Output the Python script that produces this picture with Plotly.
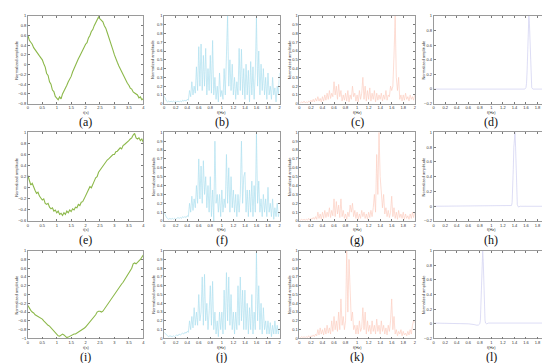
import plotly.graph_objects as go

# ---------------- data ----------------
t = [round(0.05 * i, 2) for i in range(81)]          # time grid (s)
f = [round(0.02 * i, 2) for i in range(101)]         # frequency grid (Hz)

sig_a = [0.6, 0.5, 0.46, 0.42, 0.35, 0.3, 0.28, 0.22, 0.18, 0.14,
         0.1, 0.02, -0.05, -0.18, -0.22, -0.35, -0.4, -0.52, -0.55, -0.65,
         -0.68, -0.72, -0.66, -0.7, -0.6, -0.55, -0.48, -0.42, -0.35, -0.3,
         -0.24, -0.15, -0.08, -0.02, 0.08, 0.12, 0.18, 0.25, 0.3, 0.36,
         0.42, 0.45, 0.55, 0.6, 0.68, 0.72, 0.8, 0.86, 0.92, 0.98,
         0.94, 0.9, 0.88, 0.8, 0.75, 0.66, 0.58, 0.48, 0.4, 0.3,
         0.2, 0.14, 0.05, -0.02, -0.08, -0.15, -0.2, -0.28, -0.32, -0.38,
         -0.42, -0.48, -0.5, -0.56, -0.58, -0.6, -0.62, -0.68, -0.66, -0.72,
         -0.7]
sig_e = [0.22, 0.15, 0.05, 0.08, 0.0, -0.05, -0.1, -0.08, -0.15, -0.18,
         -0.22, -0.2, -0.28, -0.3, -0.28, -0.35, -0.38, -0.36, -0.42, -0.4,
         -0.45, -0.42, -0.48, -0.46, -0.5, -0.45, -0.48, -0.42, -0.45, -0.4,
         -0.43, -0.38, -0.4, -0.35, -0.36, -0.3, -0.32, -0.26, -0.25, -0.2,
         -0.15, -0.1, -0.05, 0.02, 0.0, 0.08, 0.12, 0.18, 0.2, 0.28,
         0.32, 0.36, 0.4, 0.42, 0.46, 0.5, 0.52, 0.55, 0.58, 0.6,
         0.6, 0.65, 0.66, 0.7, 0.72, 0.7, 0.76, 0.78, 0.8, 0.82,
         0.85, 0.88, 0.9, 0.95, 0.98, 0.9, 0.88, 0.9, 0.85, 0.88,
         0.82]
sig_i = [-0.25, -0.32, -0.36, -0.4, -0.42, -0.46, -0.48, -0.5, -0.52, -0.54,
         -0.56, -0.6, -0.64, -0.66, -0.7, -0.72, -0.76, -0.8, -0.82, -0.86,
         -0.9, -0.94, -0.95, -0.92, -0.9, -0.92, -0.96, -0.98, -0.97, -0.95,
         -0.94, -0.92, -0.9, -0.9, -0.88, -0.86, -0.84, -0.82, -0.8, -0.77,
         -0.74, -0.7, -0.67, -0.64, -0.6, -0.56, -0.52, -0.46, -0.4, -0.38,
         -0.38, -0.4, -0.38, -0.33, -0.28, -0.24, -0.2, -0.15, -0.1, -0.05,
         0.0, 0.05, 0.1, 0.14, 0.19, 0.24, 0.28, 0.33, 0.38, 0.44,
         0.48, 0.54, 0.6, 0.7, 0.72, 0.7, 0.73, 0.76, 0.8, 0.85,
         0.9]

spec_b = [0.09, 0.05, 0.03, 0.02, 0.03, 0.02, 0.03, 0.02, 0.03, 0.02,
          0.03, 0.02, 0.03, 0.02, 0.03, 0.02, 0.04, 0.03, 0.04, 0.03,
          0.05, 0.04, 0.15, 0.08, 0.25, 0.1, 0.2, 0.12, 0.42, 0.15,
          0.65, 0.2, 0.68, 0.15, 0.55, 0.2, 0.63, 0.1, 0.4, 0.15,
          0.55, 0.12, 0.72, 0.1, 0.3, 0.05, 0.2, 0.02, 0.35, 0.08,
          0.15, 0.05, 0.4, 0.1, 0.5, 1.0, 0.2, 0.5, 0.15, 0.45,
          0.1, 0.3, 0.05, 0.25, 0.1, 0.63, 0.15, 0.62, 0.1, 0.4,
          0.05, 0.45, 0.1, 0.38, 0.02, 0.48, 0.1, 0.42, 0.05, 0.35,
          0.98, 0.2, 0.6, 0.1, 0.45, 0.15, 0.4, 0.1, 0.3, 0.05,
          0.35, 0.1, 0.2, 0.05, 0.3, 0.1, 0.18, 0.02, 0.2, 0.1,
          0.35]
spec_f = [0.1, 0.06, 0.04, 0.03, 0.02, 0.03, 0.02, 0.03, 0.02, 0.03,
          0.02, 0.03, 0.04, 0.03, 0.04, 0.03, 0.05, 0.04, 0.05, 0.04,
          0.06, 0.05, 0.2, 0.1, 0.28, 0.12, 0.25, 0.15, 0.4, 0.2,
          0.7, 0.25, 0.62, 0.2, 0.68, 0.3, 0.5, 0.15, 0.4, 0.1,
          0.5, 0.05, 0.35, 0.0, 0.9, 0.2, 0.3, 0.1, 0.3, 0.05,
          0.35, 0.1, 0.25, 0.15, 0.75, 0.2, 0.6, 0.1, 0.5, 0.15,
          0.35, 0.1, 0.3, 0.05, 0.3, 0.1, 0.3, 0.9, 0.2, 0.5,
          0.55, 0.1, 0.35, 0.05, 0.35, 0.1, 0.45, 0.05, 0.4, 0.1,
          0.98, 0.2, 0.45, 0.1, 0.25, 0.05, 0.3, 0.1, 0.25, 0.05,
          0.38, 0.1, 0.2, 0.05, 0.25, 0.02, 0.15, 0.05, 0.2, 0.05,
          0.1]
spec_j = [0.07, 0.05, 0.04, 0.03, 0.02, 0.03, 0.02, 0.02, 0.03, 0.02,
          0.03, 0.04, 0.03, 0.05, 0.04, 0.05, 0.06, 0.05, 0.07, 0.06,
          0.08, 0.07, 0.2, 0.1, 0.25, 0.12, 0.35, 0.15, 0.3, 0.15,
          0.5, 0.2, 0.3, 0.7, 0.15, 0.73, 0.2, 0.4, 0.1, 0.3,
          0.6, 0.15, 0.65, 0.1, 0.3, 0.05, 0.2, 0.02, 0.3, 0.1,
          0.3, 0.05, 0.55, 0.1, 0.75, 0.2, 0.7, 0.15, 0.5, 0.1,
          0.3, 0.05, 0.3, 0.1, 0.6, 0.15, 0.7, 0.2, 0.55, 0.1,
          0.55, 0.1, 0.4, 0.05, 0.35, 0.1, 0.5, 0.05, 0.3, 0.1,
          0.98, 0.2, 0.6, 0.1, 0.4, 0.05, 0.35, 0.1, 0.2, 0.05,
          0.2, 0.05, 0.18, 0.02, 0.15, 0.05, 0.2, 0.05, 0.15, 0.05,
          0.12]

spec_c = [0.02, 0.01, 0.02, 0.01, 0.03, 0.01, 0.02, 0.01, 0.03, 0.02,
          0.04, 0.02, 0.05, 0.02, 0.06, 0.03, 0.08, 0.03, 0.06, 0.02,
          0.08, 0.03, 0.1, 0.04, 0.12, 0.05, 0.15, 0.06, 0.12, 0.08,
          0.25, 0.1, 0.2, 0.05, 0.22, 0.08, 0.15, 0.03, 0.1, 0.04,
          0.12, 0.03, 0.15, 0.02, 0.1, 0.05, 0.2, 0.08, 0.12, 0.03,
          0.1, 0.02, 0.15, 0.05, 0.12, 0.3, 0.05, 0.2, 0.03, 0.15,
          0.05, 0.18, 0.03, 0.12, 0.05, 0.15, 0.02, 0.12, 0.04, 0.1,
          0.05, 0.12, 0.03, 0.1, 0.05, 0.15, 0.04, 0.1, 0.08, 0.2,
          0.15, 0.2, 0.55, 1.0, 0.3, 0.15, 0.3, 0.05, 0.1, 0.03,
          0.1, 0.04, 0.12, 0.05, 0.08, 0.03, 0.1, 0.05, 0.08, 0.04,
          0.1]
spec_g = [0.02, 0.01, 0.02, 0.01, 0.02, 0.01, 0.02, 0.01, 0.03, 0.01,
          0.03, 0.02, 0.04, 0.02, 0.05, 0.02, 0.1, 0.03, 0.08, 0.02,
          0.1, 0.03, 0.12, 0.04, 0.1, 0.05, 0.15, 0.04, 0.12, 0.06,
          0.25, 0.05, 0.22, 0.08, 0.18, 0.04, 0.25, 0.05, 0.12, 0.03,
          0.08, 0.02, 0.1, 0.05, 0.18, 0.1, 0.2, 0.05, 0.12, 0.03,
          0.1, 0.02, 0.08, 0.03, 0.12, 0.05, 0.1, 0.03, 0.08, 0.02,
          0.1, 0.04, 0.12, 0.05, 0.15, 0.3, 0.1, 0.75, 0.3, 1.0,
          0.5, 0.3, 0.15, 0.3, 0.08, 0.15, 0.05, 0.12, 0.04, 0.1,
          0.28, 0.05, 0.15, 0.03, 0.1, 0.02, 0.12, 0.04, 0.08, 0.03,
          0.1, 0.02, 0.08, 0.03, 0.06, 0.02, 0.08, 0.03, 0.1, 0.04,
          0.1]
spec_k = [0.02, 0.01, 0.02, 0.01, 0.02, 0.01, 0.02, 0.01, 0.03, 0.01,
          0.03, 0.02, 0.04, 0.02, 0.05, 0.03, 0.1, 0.04, 0.12, 0.05,
          0.1, 0.04, 0.12, 0.05, 0.15, 0.06, 0.12, 0.05, 0.2, 0.08,
          0.25, 0.1, 0.2, 0.08, 0.3, 0.1, 0.45, 0.15, 0.25, 0.1,
          0.2, 1.0, 0.3, 0.9, 0.55, 0.2, 0.3, 0.1, 0.15, 0.05,
          0.15, 0.05, 0.2, 0.08, 0.12, 0.35, 0.1, 0.3, 0.05, 0.2,
          0.08, 0.15, 0.05, 0.2, 0.08, 0.15, 0.05, 0.22, 0.08, 0.15,
          0.05, 0.2, 0.08, 0.15, 0.05, 0.12, 0.04, 0.15, 0.08, 0.2,
          0.45, 0.1, 0.25, 0.05, 0.1, 0.03, 0.08, 0.05, 0.1, 0.03,
          0.08, 0.04, 0.06, 0.03, 0.08, 0.04, 0.1, 0.05, 0.15, 0.2,
          0.18]

f_d = [0, 0.1, 0.2, 0.3, 0.4, 0.5, 0.6, 0.7, 0.8, 0.9, 1.0, 1.1, 1.2, 1.3, 1.4, 1.5,
       1.55, 1.58, 1.6, 1.61, 1.62, 1.63, 1.64, 1.65, 1.66, 1.67, 1.68, 1.69, 1.7,
       1.72, 1.75, 1.8, 1.9, 2.0]
y_d = [0.0, 0.0, 0.0, 0.0, 0.0, 0.0, 0.0, 0.0, 0.0, 0.0, 0.0, 0.0, -0.005, -0.01, -0.01, -0.01,
       -0.005, 0.0, 0.02, 0.08, 0.25, 0.55, 0.85, 1.0, 0.9, 0.6, 0.3, 0.1, 0.02,
       0.0, 0.0, 0.0, 0.0, 0.0]
f_h = [0, 0.1, 0.2, 0.3, 0.4, 0.5, 0.6, 0.7, 0.8, 0.9, 1.0, 1.1, 1.2,
       1.25, 1.3, 1.33, 1.35, 1.36, 1.37, 1.38, 1.39, 1.4, 1.41, 1.42, 1.43, 1.44,
       1.45, 1.47, 1.5, 1.6, 1.7, 1.8, 1.9, 2.0]
y_h = [0.0, 0.0, 0.0, 0.0, 0.0, 0.0, 0.0, 0.005, 0.01, 0.005, 0.0, 0.0, 0.0,
       0.0, 0.0, 0.0, 0.01, 0.05, 0.2, 0.5, 0.8, 0.97, 1.0, 0.8, 0.45, 0.15,
       0.02, -0.01, 0.0, 0.0, 0.0, 0.0, 0.0, 0.0]
f_l = [0, 0.1, 0.2, 0.3, 0.4, 0.5, 0.6, 0.7, 0.75, 0.78, 0.8, 0.81, 0.82, 0.83, 0.84,
       0.85, 0.86, 0.87, 0.88, 0.89, 0.9, 0.92, 0.95, 1.0, 1.1, 1.2, 1.3, 1.4, 1.5,
       1.6, 1.7, 1.8, 1.9, 2.0]
y_l = [0.01, 0.01, 0.01, 0.01, 0.01, 0.01, 0.0, -0.01, -0.02, -0.015, 0.0, 0.05, 0.25, 0.6, 0.9,
       1.0, 0.85, 0.5, 0.2, 0.05, 0.01, 0.0, 0.01, 0.01, 0.02, 0.01, 0.02, 0.01, 0.02,
       0.01, 0.02, 0.01, 0.01, 0.01]

panel_labels = ["(a)", "(b)", "(c)", "(d)", "(e)", "(f)", "(g)", "(h)", "(i)", "(j)", "(k)", "(l)"]

# ---------------- styling ----------------
W, H = 550, 363
GREEN, BLUE, SALMON, LAV = "#8cb84a", "#ade0ef", "#fccfc1", "#d4d4f3"
col_px = [(19, 135), (156, 272), (292, 408), (427, 543)]
row_px = [(5, 94), (123, 213), (243, 332)]
ytitle_px = [8, 145, 282, 417]
xtitle_py = [103, 222, 341]
label_py = [113, 232, 351]

panels = [
    (t, sig_a, GREEN, 1.1, [-0.8, 1], 0.2, [0, 4], 0.5, "t(s)"),
    (f, spec_b, BLUE, 0.7, [0, 1], 0.1, [0, 2], 0.2, "f(Hz)"),
    (f, spec_c, SALMON, 0.7, [0, 1], 0.1, [0, 2], 0.2, "f(Hz)"),
    (f_d, y_d, LAV, 0.8, [-0.2, 1], 0.2, [0, 2], 0.2, "f(Hz)"),
    (t, sig_e, GREEN, 1.1, [-0.6, 1], 0.2, [0, 4], 0.5, "t(s)"),
    (f, spec_f, BLUE, 0.7, [0, 1], 0.1, [0, 2], 0.2, "f(Hz)"),
    (f, spec_g, SALMON, 0.7, [0, 1], 0.1, [0, 2], 0.2, "f(Hz)"),
    (f_h, y_h, LAV, 0.8, [-0.2, 1], 0.2, [0, 2], 0.2, "f(Hz)"),
    (t, sig_i, GREEN, 1.1, [-1, 1], 0.2, [0, 4], 0.5, "t(s)"),
    (f, spec_j, BLUE, 0.7, [0, 1], 0.1, [0, 2], 0.2, "f(Hz)"),
    (f, spec_k, SALMON, 0.7, [0, 1], 0.1, [0, 2], 0.2, "f(Hz)"),
    (f_l, y_l, LAV, 0.8, [-0.2, 1], 0.2, [0, 2], 0.2, "f(Hz)"),
]

fig = go.Figure()
layout = dict(width=W, height=H, margin=dict(l=0, r=0, t=0, b=0),
              paper_bgcolor="white", plot_bgcolor="white", showlegend=False)
annotations = []
small = dict(family="Liberation Sans, Arial", size=4, color="#333333")
anch = dict(xref="paper", yref="paper", showarrow=False, xanchor="center", yanchor="middle")

for k, (xs, ys, color, lw, yr, ydt, xr, xdt, xt) in enumerate(panels):
    r, c = divmod(k, 4)
    n = "" if k == 0 else str(k + 1)
    fig.add_trace(go.Scatter(x=xs, y=ys, mode="lines",
                             line=dict(color=color, width=lw),
                             xaxis="x" + n, yaxis="y" + n, hoverinfo="skip"))
    x0, x1 = col_px[c]
    y0, y1 = row_px[r]
    common = dict(showgrid=False, zeroline=False, showline=True, mirror="ticks",
                  linecolor="#9a9a9a", linewidth=0.8, ticks="inside", ticklen=2,
                  tickwidth=0.6, tickcolor="#7a7a7a", tickfont=small)
    layout["xaxis" + n] = dict(domain=[x0 / W, x1 / W], range=xr, dtick=xdt, tick0=0,
                               anchor="y" + n, **common)
    layout["yaxis" + n] = dict(domain=[1 - y1 / H, 1 - y0 / H], range=yr, dtick=ydt, tick0=0,
                               anchor="x" + n, **common)
    cx = (x0 + x1) / 2 / W
    annotations.append(dict(text=xt, x=cx, y=1 - xtitle_py[r] / H, font=small, **anch))
    annotations.append(dict(text="Normalized amplitude", x=ytitle_px[c] / W,
                            y=1 - (y0 + y1) / 2 / H, textangle=-90, font=small, **anch))
    annotations.append(dict(text=panel_labels[k], x=cx, y=1 - label_py[r] / H,
                            font=dict(family="Liberation Serif, Times New Roman", size=12,
                                      color="#111111"), **anch))

layout["annotations"] = annotations
fig.update_layout(**layout)
fig.write_html("out.html")
